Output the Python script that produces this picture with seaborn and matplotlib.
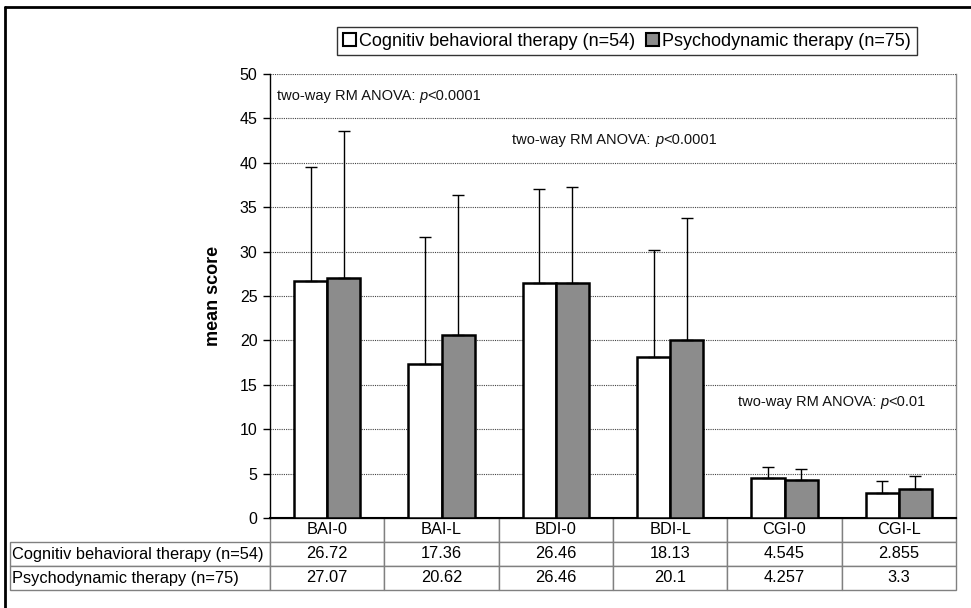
import matplotlib
matplotlib.use("Agg")
import matplotlib.pyplot as plt
import seaborn as sns
import pandas as pd
import numpy as np
from matplotlib.lines import Line2D

categories = ["BAI-0", "BAI-L", "BDI-0", "BDI-L", "CGI-0", "CGI-L"]
groups = ["Cognitiv behavioral therapy (n=54)", "Psychodynamic therapy (n=75)"]
cbt_mean = [26.72, 17.36, 26.46, 18.13, 4.545, 2.855]
pd_mean = [27.07, 20.62, 26.46, 20.1, 4.257, 3.3]
cbt_sd = [12.8, 14.3, 10.6, 12.1, 1.15, 1.3]
pd_sd = [16.5, 15.8, 10.8, 13.7, 1.25, 1.46]
annotations = [
    ("two-way RM ANOVA: ", "p", "<0.0001", -0.44, 47.5),
    ("two-way RM ANOVA: ", "p", "<0.0001", 1.62, 42.6),
    ("two-way RM ANOVA: ", "p", "<0.01", 3.59, 13.1),
]

sns.set_theme(style="white")
plt.rcParams["font.family"] = ["Liberation Sans", "DejaVu Sans"]
plt.rcParams["text.color"] = "black"
plt.rcParams["axes.labelcolor"] = "black"
plt.rcParams["ytick.color"] = "black"
plt.rcParams["xtick.color"] = "black"

df = pd.DataFrame({
    "category": categories * 2,
    "group": [groups[0]] * 6 + [groups[1]] * 6,
    "value": cbt_mean + pd_mean,
})

fig = plt.figure(figsize=(9.71, 6.08), dpi=100)
ax = fig.add_axes([270 / 971, 1 - 518 / 608, 686 / 971, 444 / 608])

sns.barplot(data=df, x="category", y="value", hue="group", order=categories,
            hue_order=groups, palette=["white", "#8c8c8c"], errorbar=None,
            width=0.58, edgecolor="black", linewidth=1.8, saturation=1, ax=ax,
            zorder=3)

for cont, sds in zip(ax.containers, [cbt_sd, pd_sd]):
    for bar, sd in zip(cont, sds):
        xc = bar.get_x() + bar.get_width() / 2
        h = bar.get_height()
        ax.errorbar([xc], [h], yerr=[[0], [sd]], fmt="none", ecolor="black",
                    elinewidth=1, capsize=4, capthick=1, zorder=4)

ax.set_ylim(0, 50)
ax.set_xlim(-0.5, 5.5)
ax.set_yticks(np.arange(0, 51, 5))
ax.yaxis.grid(True, color="#444444", linestyle=(0, (1, 1)), linewidth=0.8, zorder=0)
ax.set_axisbelow(True)
ax.tick_params(axis="y", which="major", direction="out", length=5, width=1,
               color="black", labelsize=11.5, left=True, pad=4, labelcolor="black")
ax.tick_params(axis="x", bottom=False, labelbottom=False)
ax.set_xlabel("")
ax.set_ylabel("mean score", fontsize=13, fontweight="bold", labelpad=13, color="black")
ax.spines["top"].set_visible(False)
ax.spines["left"].set_color("black")
ax.spines["left"].set_linewidth(1)
ax.spines["bottom"].set_color("black")
ax.spines["bottom"].set_linewidth(1.5)
ax.spines["right"].set_color("#888888")
ax.spines["right"].set_linewidth(1)

fig.canvas.draw()
for pre, it, post, x, y in annotations:
    t = ax.text(x, y, pre, fontsize=10.5, ha="left", va="center", color="#111111")
    fig.canvas.draw()
    bb = t.get_window_extent()
    x1 = ax.transData.inverted().transform((bb.x1, 0))[0]
    t2 = ax.text(x1, y, it, fontsize=10.5, style="italic", ha="left", va="center", color="#111111")
    fig.canvas.draw()
    bb2 = t2.get_window_extent()
    x2 = ax.transData.inverted().transform((bb2.x1, 0))[0]
    ax.text(x2, y, post, fontsize=10.5, ha="left", va="center", color="#111111")

# legend
handles, labels = ax.get_legend_handles_labels()
if ax.legend_:
    ax.legend_.remove()
leg = fig.legend(handles, labels, loc="center", bbox_to_anchor=(627 / 971, 1 - 41 / 608),
                 ncol=2, fontsize=13, frameon=True, fancybox=False, handlelength=0.7,
                 handleheight=0.7, handletextpad=0.2, columnspacing=0.6,
                 borderpad=0.3, borderaxespad=0)
leg.get_frame().set_edgecolor("black")
leg.get_frame().set_linewidth(1)
for hnd in leg.legend_handles:
    hnd.set_edgecolor("black")
    hnd.set_linewidth(1.5)

# data table
cell_text = [[groups[0]] + [str(v) for v in cbt_mean],
             [groups[1]] + [str(v) for v in pd_mean]]
col_labels = [""] + categories
lab_w = 260 / 686
cat_w = 1 / 6
tbl = ax.table(cellText=cell_text, colLabels=col_labels,
               colWidths=[lab_w] + [cat_w] * 6,
               bbox=[-lab_w, -72 / 444, 1 + lab_w, 72 / 444], cellLoc="center")
tbl.auto_set_font_size(False)
tbl.set_fontsize(11.8)
for (r, c), cell in tbl.get_celld().items():
    cell.set_edgecolor("#808080")
    cell.set_linewidth(1)
    cell.get_text().set_color("black")
    if r == 0 and c == 0:
        cell.visible_edges = ""
    if c == 0 and r > 0:
        cell._loc = "left"
        cell.PAD = 0.006
        cell.get_text().set_ha("left")

# outer frame
fig.add_artist(Line2D([5 / 971, 5 / 971], [0, 1 - 7 / 608], transform=fig.transFigure,
                      color="black", linewidth=2))
fig.add_artist(Line2D([5 / 971, 1], [1 - 7 / 608, 1 - 7 / 608], transform=fig.transFigure,
                      color="black", linewidth=2))

fig.savefig("out.png", dpi=100)
